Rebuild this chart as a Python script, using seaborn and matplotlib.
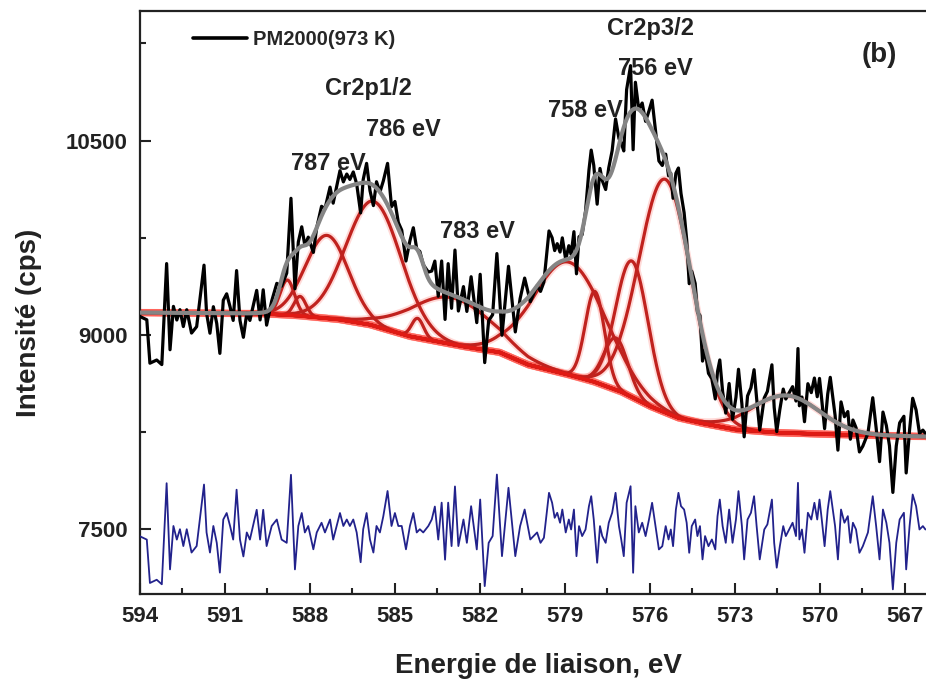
import numpy as np
import matplotlib
matplotlib.use("Agg")
import matplotlib.pyplot as plt
import seaborn as sns
from matplotlib.ticker import MultipleLocator
from matplotlib.lines import Line2D

# ---------------- data ----------------
# background knots (binding energy eV -> cps)
bg_ev = [594.0, 589.8, 588.5, 587.0, 585.9, 584.5, 582.7, 581.3, 580.3, 579.0,
         578.0, 577.0, 576.0, 575.0, 574.2, 573.0, 571.5, 569.8, 566.2]
bg_cps = [9172, 9165, 9150, 9120, 9080, 8990, 8915, 8865, 8770, 8700,
          8640, 8560, 8450, 8360, 8320, 8270, 8245, 8233, 8215]

# fitted components: centre (eV), height above background (cps), FWHM (eV)
peak_center = [588.8, 588.35, 587.4, 585.75, 584.2, 583.0, 578.85, 577.94, 577.2, 576.63, 575.45, 571.2]
peak_height = [270, 150, 640, 960, 150, 360, 870, 700, 400, 1050, 1800, 290]
peak_fwhm = [0.6, 0.5, 1.8, 2.3, 0.5, 3.4, 3.0, 0.8, 1.0, 1.35, 2.2, 2.8]

# residual (data - fit)
res_ev = [594.00, 593.76, 593.65, 593.41, 593.23, 593.06, 592.94, 592.82, 592.70, 592.59,
          592.47, 592.35, 592.18, 592.00, 591.74, 591.65, 591.53, 591.41, 591.29, 591.18,
          591.06, 590.94, 590.82, 590.71, 590.59, 590.47, 590.35, 590.23, 590.12, 589.88,
          589.76, 589.65, 589.53, 589.35, 589.17, 589.00, 588.82, 588.67, 588.53, 588.41,
          588.29, 588.18, 588.06, 587.88, 587.76, 587.59, 587.47, 587.29, 587.18, 586.94,
          586.82, 586.70, 586.59, 586.47, 586.35, 586.21, 586.12, 586.00, 585.88, 585.76,
          585.65, 585.53, 585.41, 585.26, 585.12, 585.00, 584.88, 584.76, 584.61, 584.47,
          584.35, 584.23, 584.12, 584.00, 583.82, 583.70, 583.59, 583.47, 583.35, 583.23,
          583.12, 583.00, 582.88, 582.76, 582.58, 582.46, 582.31, 582.11, 581.99, 581.83,
          581.69, 581.55, 581.40, 581.22, 580.99, 580.75, 580.58, 580.42, 580.22, 579.98,
          579.86, 579.74, 579.56, 579.45, 579.36, 579.27, 579.17, 579.09, 578.97, 578.86,
          578.78, 578.68, 578.59, 578.50, 578.39, 578.27, 578.15, 578.07, 577.98, 577.86,
          577.76, 577.68, 577.56, 577.45, 577.33, 577.21, 577.09, 577.01, 576.92, 576.82,
          576.68, 576.59, 576.51, 576.39, 576.27, 576.15, 576.03, 575.92, 575.80, 575.68,
          575.56, 575.44, 575.34, 575.26, 575.18, 575.08, 574.99, 574.90, 574.79, 574.70,
          574.61, 574.52, 574.40, 574.32, 574.23, 574.14, 574.05, 573.93, 573.81, 573.69,
          573.61, 573.53, 573.43, 573.32, 573.20, 573.08, 572.96, 572.87, 572.75, 572.67,
          572.55, 572.43, 572.32, 572.23, 572.12, 571.96, 571.85, 571.69, 571.61, 571.52,
          571.41, 571.29, 571.20, 571.08, 570.96, 570.84, 570.77, 570.72, 570.63, 570.54,
          570.42, 570.30, 570.19, 570.09, 570.01, 569.93, 569.83, 569.72, 569.63, 569.54,
          569.46, 569.36, 569.25, 569.13, 569.01, 568.92, 568.83, 568.72, 568.60, 568.48,
          568.30, 568.13, 568.01, 567.89, 567.77, 567.65, 567.54, 567.42, 567.30, 567.18,
          567.03, 566.95, 566.83, 566.72, 566.60, 566.48, 566.36, 566.27]
res_cps = [-30, -55, -390, -365, -400, 380, -285, 50, -55, 25,
           -105, 25, -155, -105, 370, 0, -155, 50, -80, -310,
           100, 150, 50, -55, 330, -55, -185, 0, -55, 175,
           -55, 175, -105, 50, 100, -55, -80, 445, -285, 50,
           150, 0, 50, -130, 0, 75, 0, 100, -55, 150,
           50, 100, 50, 100, 0, -230, 25, 150, -55, -155,
           50, 0, 125, 320, 50, 150, 50, 50, -130, 50,
           150, 0, 25, 0, 50, 100, 200, -55, 230, -210,
           230, -105, 355, -105, 100, -80, 203, -131, 254, -414,
           -80, -28, 447, -183, 345, -183, 49, 177, -54, 0,
           -80, -41, 306, 229, 113, 152, 75, 177, 0, 100,
           23, 177, -183, 49, -28, 23, 203, 280, 100, -234,
           49, -28, -80, 75, 152, 306, 49, -54, -183, 229,
           357, -311, 203, 0, 75, -28, 100, 229, 49, -131,
           -106, 49, -54, 23, -106, 177, 306, 203, 177, 75,
           -157, 49, 100, -28, 49, -208, -28, -106, -54, -131,
           126, 254, 49, -80, 177, -80, 100, 319, 49, -208,
           100, 152, 280, 49, -208, 23, 62, 254, -80, -272,
           -106, 49, -28, 23, 75, -28, 383, -54, 23, -157,
           152, 100, 229, 100, 254, 100, -106, 177, 319, 177,
           49, -208, 177, 75, 126, -80, 75, 23, -157, -106,
           0, 280, 49, -208, 177, 75, -80, -439, -80, 100,
           152, -285, 49, 293, 203, 23, 49, 23]

residual_offset = 7475
x_ticks = [594, 591, 588, 585, 582, 579, 576, 573, 570, 567]
y_ticks = [7500, 9000, 10500]

peak_labels = ["Cr2p1/2", "786 eV", "787 eV", "783 eV", "758 eV", "756 eV", "Cr2p3/2"]
peak_label_pos = [(585.92, 10905), (584.70, 10585), (587.36, 10325), (582.10, 9795),
                  (578.29, 10730), (575.82, 11055), (575.96, 11365)]

# ---------------- model curves ----------------
def gauss(x, c, h, w):
    return h * np.exp(-4.0 * np.log(2.0) * (x - c) ** 2 / w ** 2)

def background(x):
    return np.interp(x, bg_ev[::-1], bg_cps[::-1])

grid = np.linspace(594.0, 566.25, 1500)
bg = background(grid)
comps = [gauss(grid, c, h, w) for c, h, w in zip(peak_center, peak_height, peak_fwhm)]
envelope = bg + np.sum(comps, axis=0)

rx = np.array(res_ev)
rr = np.array(res_cps, dtype=float)
env_r = background(rx) + np.sum([gauss(rx, c, h, w) for c, h, w in
                                 zip(peak_center, peak_height, peak_fwhm)], axis=0)
data_cps = env_r + rr
resid_line = residual_offset + rr

# ---------------- figure ----------------
sns.set_style("ticks")
plt.rcParams['font.family'] = ['Liberation Sans', 'DejaVu Sans']

fig = plt.figure(figsize=(9.26, 6.82), dpi=100)
ax = fig.add_axes([140 / 926, 1 - 594 / 682, 786 / 926, 583 / 682])

# red components with a soft halo
for comp in comps:
    sns.lineplot(x=grid, y=bg + comp, ax=ax, color="#ff5a50", lw=5.0, alpha=0.22,
                 sort=False, estimator=None, legend=False, zorder=1)
sns.lineplot(x=grid, y=bg, ax=ax, color="#ff5a50", lw=5.5, alpha=0.25,
             sort=False, estimator=None, legend=False, zorder=1)
for comp in comps:
    sns.lineplot(x=grid, y=bg + comp, ax=ax, color="#c0221e", lw=2.3,
                 sort=False, estimator=None, legend=False, zorder=2)
sns.lineplot(x=grid, y=bg, ax=ax, color="#e01a14", lw=2.6,
             sort=False, estimator=None, legend=False, zorder=2)
sns.lineplot(x=rx, y=data_cps, ax=ax, color="black", lw=2.3,
             sort=False, estimator=None, legend=False, zorder=3)
sns.lineplot(x=grid, y=envelope, ax=ax, color="#858585", lw=3.0,
             sort=False, estimator=None, legend=False, zorder=4)
sns.lineplot(x=rx, y=resid_line, ax=ax, color="#22228c", lw=1.3,
             sort=False, estimator=None, legend=False, zorder=3)

ax.set_xlim(594.0, 566.25)
ax.set_ylim(7000, 11500)
ax.set_xticks(x_ticks)
ax.set_yticks(y_ticks)
ax.xaxis.set_minor_locator(MultipleLocator(1.5))
ax.yaxis.set_minor_locator(MultipleLocator(750))
ax.tick_params(which='both', direction='in', width=1.5, colors='#222222')
ax.tick_params(which='major', length=8, labelsize=16, pad=9)
ax.tick_params(which='minor', length=4.5)
for lab in ax.get_xticklabels() + ax.get_yticklabels():
    lab.set_fontweight('bold')
    lab.set_color('#222222')
for side in ['left', 'bottom', 'top']:
    ax.spines[side].set_linewidth(1.6)
    ax.spines[side].set_color('#222222')
ax.spines['right'].set_visible(False)
ax.set_xlabel("")
ax.set_ylabel("")

fig.text(538 / 926, 1 - 666 / 682, "Energie de liaison, eV", ha='center', va='center',
         fontsize=20, fontweight='bold', color='#222222')
fig.text(29 / 926, 1 - 323 / 682, "Intensité (cps)", ha='center', va='center',
         rotation=90, fontsize=20, fontweight='bold', color='#222222')

for txt, (px, py) in zip(peak_labels, peak_label_pos):
    ax.text(px, py, txt, ha='center', va='center', fontsize=17, fontweight='bold',
            color='#222222', zorder=6)
ax.text(567.9, 11163, "(b)", ha='center', va='center', fontsize=20,
        fontweight='bold', color='#222222')

handle = Line2D([0], [0], color='black', lw=2.6)
ax.legend([handle], ["PM2000(973 K)"], loc='upper left',
          bbox_to_anchor=((193 - 140) / 786, (594 - 30) / 583),
          frameon=False, handlelength=2.7, handletextpad=0.3,
          borderpad=0, borderaxespad=0,
          prop={'size': 14.5, 'weight': 'bold', 'family': ['Liberation Sans', 'DejaVu Sans']})

fig.savefig("out.png", dpi=100, facecolor='white')
